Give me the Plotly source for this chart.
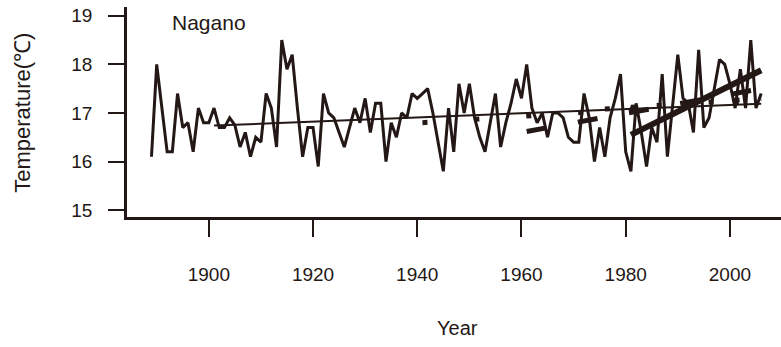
import plotly.graph_objects as go

# ---- data ----
years = list(range(1889, 2007))
temps = [
    16.1, 18.0, 17.1, 16.2, 16.2, 17.4, 16.7, 16.8, 16.2, 17.1,   # 1889-1898
    16.8, 16.8, 17.1, 16.7, 16.7, 16.9, 16.75, 16.3, 16.6, 16.1,  # 1899-1908
    16.5, 16.4, 17.4, 17.1, 16.3, 18.5, 17.9, 18.2, 17.1, 16.1,   # 1909-1918
    16.7, 16.7, 15.9, 17.4, 17.0, 16.9, 16.6, 16.3, 16.7, 17.1,   # 1919-1928
    16.8, 17.3, 16.6, 17.2, 17.2, 16.0, 16.8, 16.5, 17.0, 16.9,   # 1929-1938
    17.4, 17.3, 17.4, 17.5, 17.0, 16.4, 15.8, 17.1, 16.2, 17.6,   # 1939-1948
    17.0, 17.6, 16.9, 16.5, 16.2, 16.8, 17.4, 16.3, 16.8, 17.2,   # 1949-1958
    17.7, 17.3, 18.0, 17.1, 16.8, 17.0, 16.5, 17.0, 17.0, 16.9,   # 1959-1968
    16.5, 16.4, 16.4, 17.4, 16.9, 16.0, 16.7, 16.1, 16.9, 17.3,   # 1969-1978
    17.8, 16.2, 15.8, 17.2, 16.6, 15.9, 16.7, 16.4, 17.8, 16.1,   # 1979-1988
    17.1, 18.2, 17.3, 17.2, 16.6, 18.3, 16.7, 16.9, 17.5, 18.1,   # 1989-1998
    18.0, 17.6, 17.1, 17.9, 17.1, 18.5, 17.1, 17.4,               # 1999-2006
]

# linear trends: start year, end year, start value, end value
trend_start_year = [1901, 1941, 1976, 1961, 1981]
trend_end_year = [2006, 2006, 2006, 2006, 2006]
trend_start_val = [16.74, 16.80, 17.08, 16.62, 16.55]
trend_end_val = [17.19, 17.25, 17.30, 17.50, 17.88]

y_ticks = [15, 16, 17, 18, 19]
x_ticks = [1900, 1920, 1940, 1960, 1980, 2000]
station = "Nagano"

# ---- styles ----
INK = "#231815"
trend_styles = [
    dict(width=2, dash="solid"),
    dict(width=5, dash="5px,47px"),
    dict(width=5, dash="5px,21px"),
    dict(width=5, dash="20px,32px"),
    dict(width=6, dash="solid"),
]

fig = go.Figure()
fig.add_trace(go.Scatter(x=years, y=temps, mode="lines",
                         line=dict(color=INK, width=3), hoverinfo="skip"))
for i in range(len(trend_start_year)):
    fig.add_trace(go.Scatter(
        x=[trend_start_year[i], trend_end_year[i]],
        y=[trend_start_val[i], trend_end_val[i]],
        mode="lines",
        line=dict(color=INK, width=trend_styles[i]["width"], dash=trend_styles[i]["dash"]),
        hoverinfo="skip"))

tick_font = dict(family="Liberation Sans Narrow, Arial Narrow, Liberation Sans, Arial", size=19, color=INK)
title_font = dict(family="Liberation Sans, Arial", size=20, color=INK)

fig.update_layout(
    width=781, height=347,
    margin=dict(l=127, r=0, t=7, b=130),
    paper_bgcolor="white", plot_bgcolor="white",
    showlegend=False,
    xaxis=dict(range=[1884.3, 2009.8], tickvals=x_ticks, ticks="outside",
               ticklen=17, tickwidth=2, tickcolor=INK, showline=True,
               linecolor=INK, linewidth=2.5, showgrid=False, zeroline=False,
               tickfont=tick_font, ticklabelstandoff=21),
    yaxis=dict(range=[14.86, 19.18], tickvals=y_ticks, ticks="outside",
               ticklen=16, tickwidth=2, tickcolor=INK, showline=True,
               linecolor=INK, linewidth=2.5, showgrid=False, zeroline=False,
               tickfont=tick_font, ticklabelstandoff=12),
    annotations=[
        dict(text=station, xref="paper", yref="paper", x=0.066, y=0.925,
             xanchor="left", yanchor="middle", showarrow=False,
             font=dict(family="Liberation Sans, Arial", size=21, color=INK)),
        dict(text="Temperature(℃)", xref="paper", yref="paper", x=-0.161, y=0.495,
             xanchor="center", yanchor="middle", textangle=-90, showarrow=False,
             font=dict(family="Liberation Sans, Arial", size=22, color=INK)),
        dict(text="Year", xref="paper", yref="paper", x=0.505, y=-0.529,
             xanchor="center", yanchor="middle", showarrow=False,
             font=title_font),
    ],
)

fig.write_html("out.html")
